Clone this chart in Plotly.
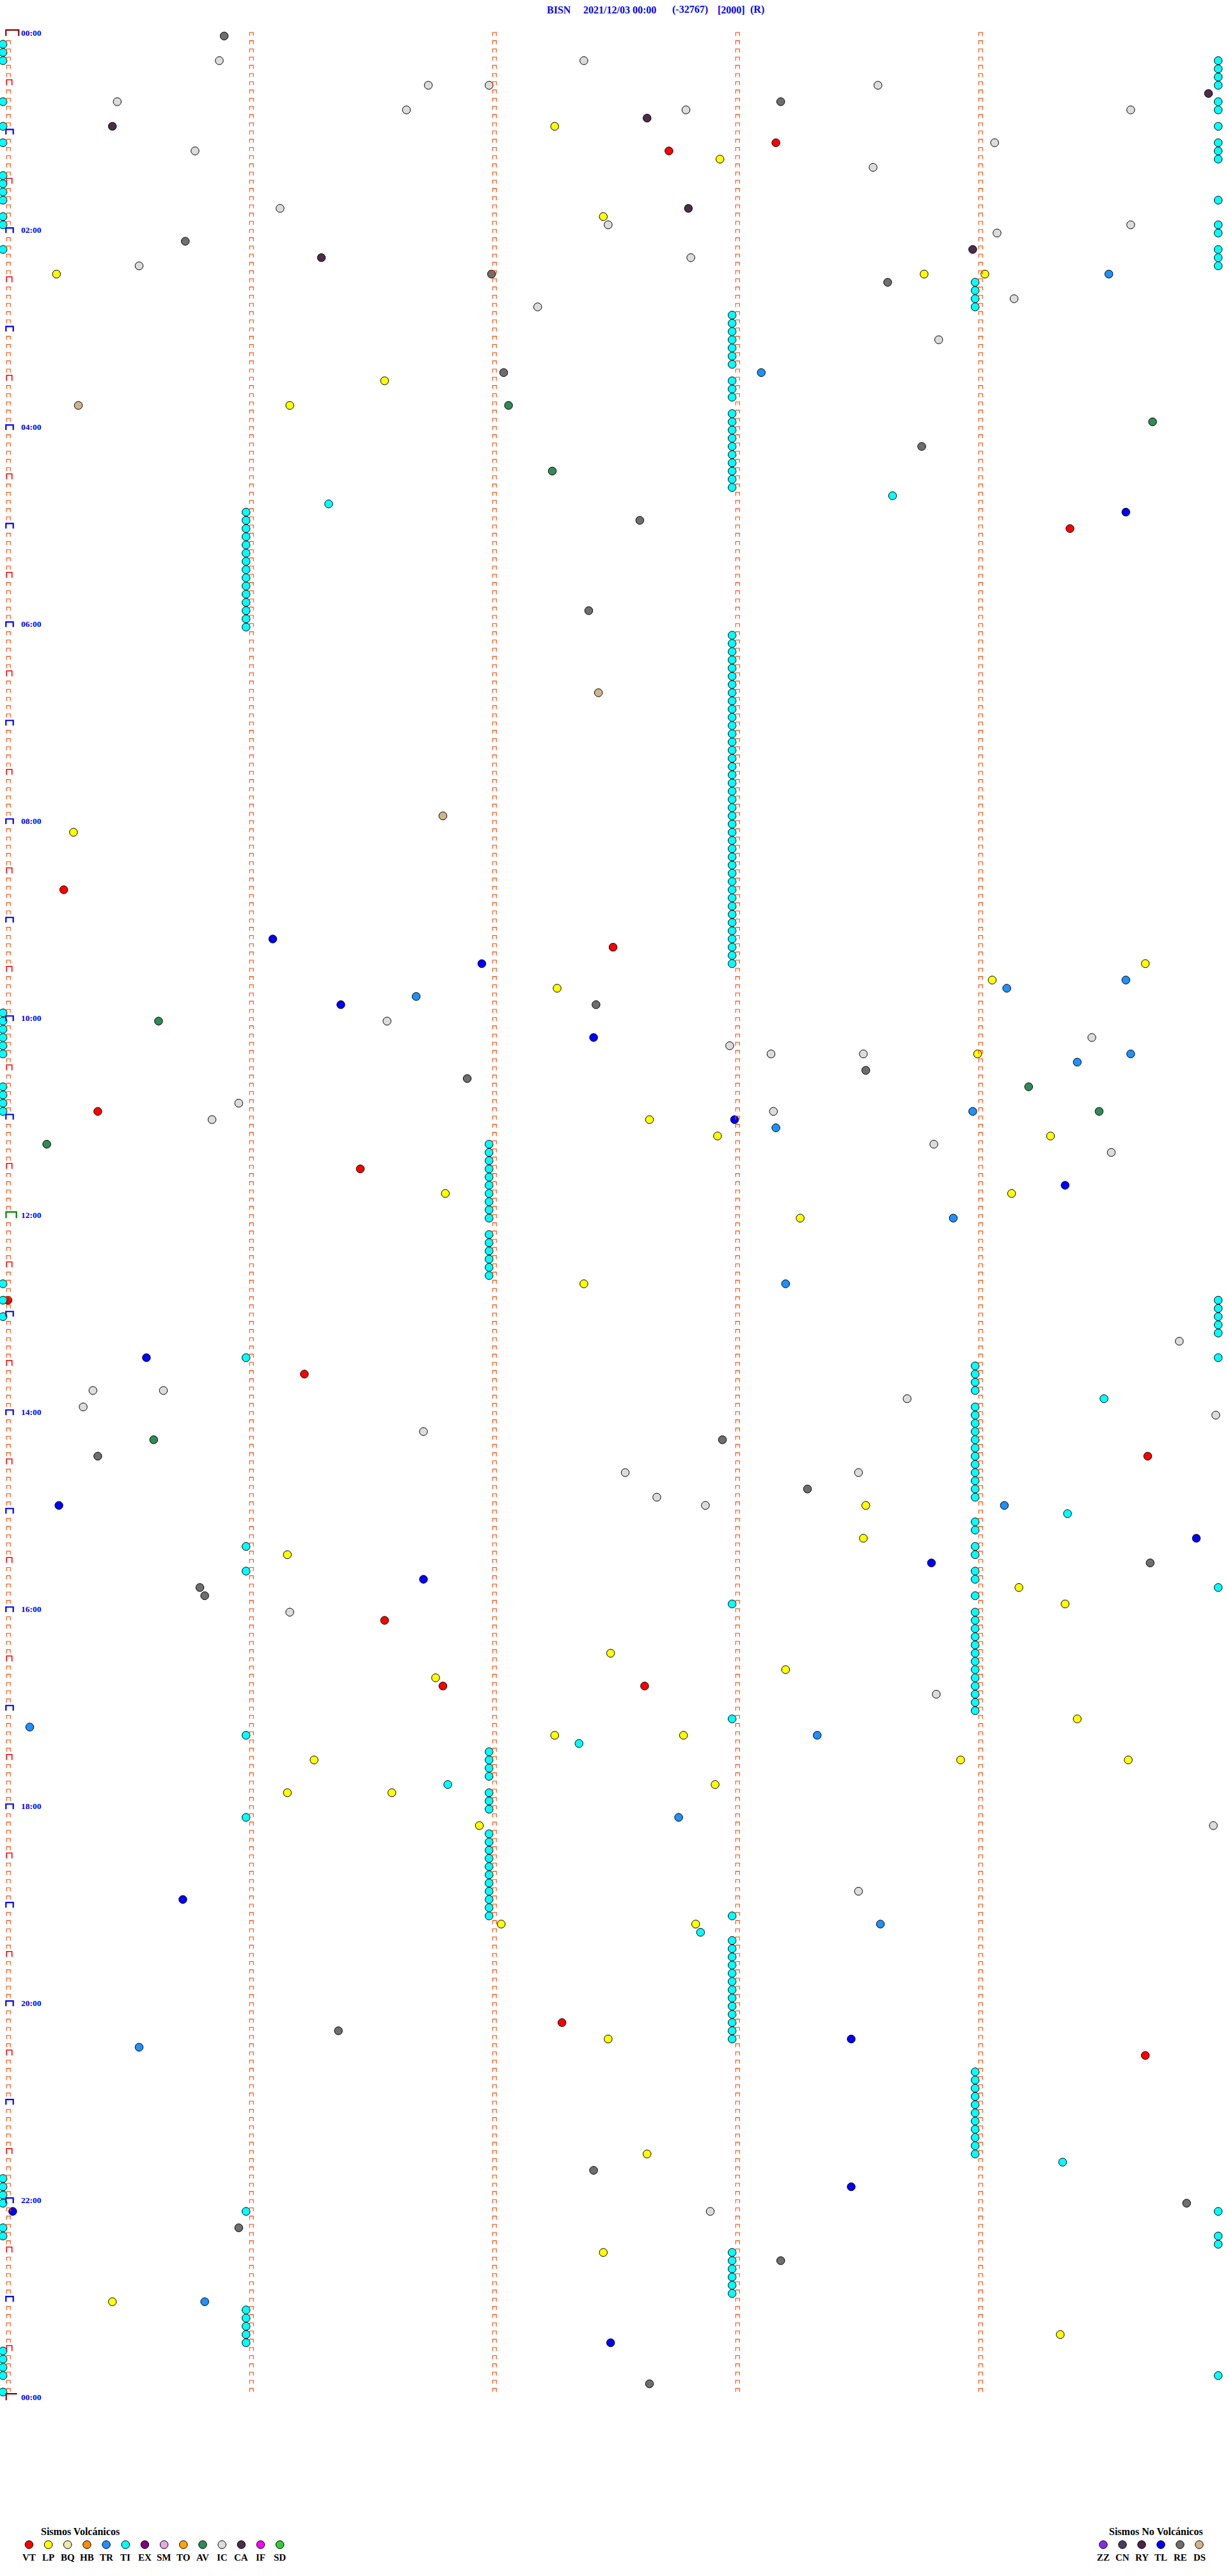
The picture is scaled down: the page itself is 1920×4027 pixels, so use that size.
import plotly.graph_objects as go

# ---------------------------------------------------------------- data
# Each event: row = index of the 5-minute line (0 = 00:00), minute = offset (0..5) inside the line
TITLE_PARTS = ["BISN", "2021/12/03 00:00", "(-32767)", "[2000]", "(R)"]
HOUR_LABELS = ["00:00", "02:00", "04:00", "06:00", "08:00", "10:00", "12:00",
               "14:00", "16:00", "18:00", "20:00", "22:00", "00:00"]
HOUR_ROWS = [0, 24, 48, 72, 96, 120, 144, 168, 192, 216, 240, 264, 288]

VOLC_CODES = ["VT", "LP", "BQ", "HB", "TR", "TI", "EX", "SM", "TO", "AV", "IC", "CA", "IF", "SD"]
VOLC_COLORS = ["#FF0000", "#FFFF00", "#EEE8AA", "#FF8C00", "#1E90FF", "#00FFFF", "#800080",
               "#E6A8E6", "#FFA500", "#2E8B57", "#DCDCDC", "#4B2D4B", "#FF00FF", "#32CD32"]
NOVOLC_CODES = ["ZZ", "CN", "RY", "TL", "RE", "DS"]
NOVOLC_COLORS = ["#8A2BE2", "#4B3B5C", "#4B2346", "#0000FF", "#6E6E6E", "#D2B48C"]

VT_row = [13, 14, 60, 104, 111, 131, 138, 154, 163, 173, 193, 201, 201, 242, 246]
VT_min = [3.18, 2.74, 4.39, 0.25, 2.51, 0.39, 1.47, 0.02, 1.24, 4.71, 1.57, 1.81, 2.64, 2.30, 4.70]

LP_row = [11, 15, 22, 29, 29, 29, 42, 45, 97, 113, 115, 116, 124, 132, 134, 134, 141, 141,
          144, 152, 179, 183, 185, 189, 191, 197, 199, 200, 205, 207, 207, 210, 210, 210,
          213, 214, 214, 218, 230, 230, 244, 258, 270, 276, 280]
LP_min = [2.27, 2.95, 2.47, 0.22, 3.79, 4.04, 1.57, 1.18, 0.29, 4.70, 4.07, 2.28, 4.01, 2.66,
          2.94, 4.31, 1.82, 4.15, 3.28, 2.39, 3.55, 3.54, 1.17, 4.18, 4.37, 2.50, 3.22, 1.78,
          4.42, 2.27, 2.80, 1.28, 3.94, 4.63, 2.93, 1.17, 1.60, 1.96, 2.05, 2.85, 2.49, 2.65,
          2.47, 0.45, 4.35]

TR_row = [29, 41, 115, 116, 117, 124, 125, 131, 133, 144, 152, 179, 206, 207, 217, 230, 245, 276]
TR_min = [4.55, 3.12, 4.62, 4.13, 1.70, 4.64, 4.42, 3.99, 3.18, 3.91, 3.22, 4.12, 0.11, 3.35,
          2.78, 3.61, 0.56, 0.83]

TL_row = [58, 110, 113, 118, 122, 132, 140, 161, 179, 183, 186, 188, 227, 244, 262, 265, 281]
TL_min = [4.62, 1.11, 1.97, 1.39, 2.43, 3.01, 4.37, 0.59, 0.23, 4.91, 3.82, 1.73, 0.74, 3.49,
          3.49, 0.04, 2.50]

RE_row = [0, 8, 25, 29, 30, 41, 50, 59, 70, 118, 126, 127, 171, 173, 177, 186, 189, 190,
          243, 260, 264, 267, 271, 286]
RE_min = [0.91, 3.20, 0.75, 2.01, 3.64, 2.06, 3.78, 2.62, 2.41, 2.44, 3.55, 1.91, 2.96, 0.39,
          3.31, 4.72, 0.81, 0.83, 1.38, 2.43, 4.87, 0.97, 3.20, 2.66]

IC_row = [3, 3, 6, 6, 6, 8, 9, 9, 9, 13, 14, 16, 21, 23, 23, 24, 27, 28, 32, 33, 37, 120, 122,
          123, 124, 124, 130, 131, 132, 135, 136, 159, 165, 165, 166, 167, 168, 170, 175, 175,
          178, 179, 192, 202, 218, 226, 265]
IC_min = [0.89, 2.39, 1.75, 2.00, 3.60, 0.47, 1.66, 2.81, 4.64, 4.08, 0.79, 3.58, 1.14, 2.49,
          4.64, 4.09, 2.83, 0.56, 4.16, 2.20, 3.85, 1.58, 4.48, 2.99, 3.16, 3.54, 0.97, 3.17,
          0.86, 3.83, 4.56, 4.84, 0.37, 0.66, 3.72, 0.33, 4.99, 1.73, 2.56, 3.52, 2.69, 2.89,
          1.18, 3.84, 4.98, 3.52, 2.91]

CA_row = [7, 10, 11, 21, 26, 27]
CA_min = [4.96, 2.65, 0.45, 2.82, 3.99, 1.31]

AV_row = [45, 47, 53, 120, 128, 131, 135, 171]
AV_min = [2.08, 4.73, 2.26, 0.64, 4.22, 4.51, 0.18, 0.62]

DS_row = [45, 80, 95]
DS_min = [0.31, 2.45, 1.81]

# TI (tremor) events sitting on the minute marks
TI_m0_rows = [1, 2, 3, 8, 11, 13, 17, 18, 19, 20, 22, 23, 26, 119, 120, 121, 122, 123, 124,
              128, 129, 130, 131, 152, 154, 156, 261, 262, 263, 264, 267, 268, 282, 283, 284,
              285, 287]
TI_m1_rows = [58, 59, 60, 61, 62, 63, 64, 65, 66, 67, 68, 69, 70, 71, 72, 161, 184, 187, 207,
              217, 265, 277, 278, 279, 280, 281]
TI_m2_rows = [135, 136, 137, 138, 139, 140, 141, 142, 143, 144, 146, 147, 148, 149, 150, 151,
              209, 210, 211, 212, 214, 215, 216, 219, 220, 221, 222, 223, 224, 225, 226, 227,
              228, 229]
TI_m3_rows = [34, 35, 36, 37, 38, 39, 40, 42, 43, 44, 46, 47, 48, 49, 50, 51, 52, 53, 54, 55,
              73, 74, 75, 76, 77, 78, 79, 80, 81, 82, 83, 84, 85, 86, 87, 88, 89, 90, 91, 92,
              93, 94, 95, 96, 97, 98, 99, 100, 101, 102, 103, 104, 105, 106, 107, 108, 109,
              110, 111, 112, 113, 191, 205, 229, 232, 233, 234, 235, 236, 237, 238, 239, 240,
              241, 242, 243, 244, 270, 271, 272, 273, 274, 275]
TI_m4_rows = [30, 31, 32, 33, 162, 163, 164, 165, 167, 168, 169, 170, 171, 172, 173, 174, 175,
              176, 177, 178, 181, 182, 184, 185, 187, 188, 190, 192, 193, 194, 195, 196, 197,
              198, 199, 200, 201, 202, 203, 204, 248, 249, 250, 251, 252, 253, 254, 255, 256,
              257, 258]
TI_m5_rows = [3, 4, 5, 6, 8, 9, 11, 13, 14, 15, 20, 23, 24, 26, 27, 28, 154, 155, 156, 157,
              158, 161, 189, 265, 268, 269, 285]
TI_other_row = [56, 57, 166, 180, 208, 213, 231, 259]
TI_other_min = [3.66, 1.34, 4.53, 4.38, 2.37, 1.83, 2.87, 4.36]

N_ROWS = 288

# ---------------------------------------------------------------- geometry (pixels)
W, H = 1920, 4027
X0_PX, MIN_PX = 4.7, 380.0
ROW0_PX, ROW_PX = 56.3, 12.833


def px2x(px):
    return (px - X0_PX) / MIN_PX


def py2y(py):
    return (py - ROW0_PX) / ROW_PX


def col_px(m):
    return X0_PX + MIN_PX * m


def row_px(r):
    return ROW0_PX + ROW_PX * r


SERIF = "Liberation Serif, Times New Roman, serif"
fig = go.Figure()


def add_points(rows, mins, color):
    fig.add_trace(go.Scatter(
        x=list(mins), y=list(rows), mode="markers",
        marker=dict(size=12.5, color=color, line=dict(color="black", width=1)),
        hoverinfo="skip", showlegend=False))


colmap = dict(zip(VOLC_CODES + NOVOLC_CODES, VOLC_COLORS + NOVOLC_COLORS))
add_points(RE_row, RE_min, colmap["RE"])
add_points(IC_row, IC_min, colmap["IC"])
add_points(CA_row, CA_min, colmap["CA"])
add_points(LP_row, LP_min, colmap["LP"])
add_points(VT_row, VT_min, colmap["VT"])
add_points(TL_row, TL_min, colmap["TL"])
add_points(TR_row, TR_min, colmap["TR"])
add_points(AV_row, AV_min, colmap["AV"])
add_points(DS_row, DS_min, colmap["DS"])
ti_rows, ti_mins = [], []
for m, rows in [(0, TI_m0_rows), (1, TI_m1_rows), (2, TI_m2_rows), (3, TI_m3_rows),
                (4, TI_m4_rows), (5, TI_m5_rows)]:
    ti_rows += rows
    ti_mins += [m] * len(rows)
ti_rows += TI_other_row
ti_mins += TI_other_min
add_points(ti_rows, ti_mins, colmap["TI"])

# ---------------------------------------------------------------- minute-mark brackets
groups = {}


def bracket(key, m, r, xl, xr, top, shape="n"):
    xs, ys = groups.setdefault(key, ([], []))
    cx, cy = col_px(m), row_px(r)
    if shape == "n":
        pts = [(cx + xl, cy), (cx + xl, cy - top), (cx + xr, cy - top), (cx + xr, cy)]
    else:
        pts = [(cx + xl, cy), (cx + xl, cy - top), (cx + xr, cy - top)]
    for px_, py_ in pts:
        xs.append(px2x(px_))
        ys.append(py2y(py_))
    xs.append(None)
    ys.append(None)


for r in range(N_ROWS + 1):
    if r == 0:
        bracket("darkred", 0, r, 4.6, 24.6, 9.5)
    elif r == N_ROWS:
        bracket("darkred", 0, r, 5.0, 22.0, 10.0, shape="g")
    elif r == 144:
        bracket("green", 0, r, 4.8, 21.0, 9.6)
    elif r % 12 == 0:
        bracket("blue", 0, r, 4.6, 16.0, 8.0)
    elif r % 12 == 6:
        bracket("red", 0, r, 5.6, 14.0, 8.5)
    else:
        bracket("orange", 0, r, 5.5, 11.5, 5.5)
    if r < N_ROWS:
        for m in (1, 2, 3, 4):
            bracket("orange", m, r, 5.5, 11.5, 5.5)

styles = {"orange": ("#FF4500", 1.1), "red": ("#FF0000", 1.6), "blue": ("#0000FF", 2.2),
          "darkred": ("#8B0000", 2.2), "green": ("#008000", 2.2)}
for key, (xs, ys) in groups.items():
    c, w = styles[key]
    fig.add_trace(go.Scatter(x=xs, y=ys, mode="lines", line=dict(color=c, width=w),
                             hoverinfo="skip", showlegend=False))

annotations = []

# hour labels
for lab, r in zip(HOUR_LABELS, HOUR_ROWS):
    annotations.append(dict(x=px2x(31), y=py2y(row_px(r) - 5), xref="x", yref="y",
                            text=f"<b>{lab}</b>", showarrow=False, xanchor="left",
                            yanchor="middle",
                            font=dict(family=SERIF, size=13.5, color="#0000FF")))

# title pieces
for txt, lx in zip(TITLE_PARTS, [854, 911, 1050, 1121, 1172]):
    annotations.append(dict(x=px2x(lx - 1), y=py2y(15), xref="x", yref="y",
                            text=f"<b>{txt}</b>", showarrow=False, xanchor="left",
                            yanchor="middle",
                            font=dict(family=SERIF, size=16, color="#0000FF")))

# legends
leg_marker_y = py2y(3978)
leg_label_y = py2y(3998)
vx = [45.4 + 30.17 * i for i in range(len(VOLC_CODES))]
nx = [1725 + 30.0 * i for i in range(len(NOVOLC_CODES))]
fig.add_trace(go.Scatter(x=[px2x(v) for v in vx], y=[leg_marker_y] * len(vx), mode="markers",
                         marker=dict(size=12.5, color=VOLC_COLORS, line=dict(color="black", width=1)),
                         hoverinfo="skip", showlegend=False))
fig.add_trace(go.Scatter(x=[px2x(v) for v in nx], y=[leg_marker_y] * len(nx), mode="markers",
                         marker=dict(size=12.5, color=NOVOLC_COLORS, line=dict(color="black", width=1)),
                         hoverinfo="skip", showlegend=False))
for code, v in list(zip(VOLC_CODES, vx)) + list(zip(NOVOLC_CODES, nx)):
    annotations.append(dict(x=px2x(v), y=leg_label_y, xref="x", yref="y",
                            text=f"<b>{code}</b>", showarrow=False, xanchor="center",
                            yanchor="middle", font=dict(family=SERIF, size=15, color="black")))
for txt, lx in [("Sismos Volcánicos", 62), ("Sismos No Volcánicos", 1732)]:
    annotations.append(dict(x=px2x(lx), y=py2y(3957), xref="x", yref="y",
                            text=f"<b>{txt}</b>", showarrow=False, xanchor="left",
                            yanchor="middle", font=dict(family=SERIF, size=16, color="black")))

fig.update_layout(
    width=W, height=H, autosize=False,
    margin=dict(l=0, r=0, t=0, b=0, pad=0),
    paper_bgcolor="white", plot_bgcolor="white",
    xaxis=dict(range=[px2x(0), px2x(W)], visible=False, showgrid=False, zeroline=False,
               fixedrange=True),
    yaxis=dict(range=[py2y(H), py2y(0)], visible=False, showgrid=False, zeroline=False,
               fixedrange=True),
    annotations=annotations,
    showlegend=False,
)

fig.write_html("out.html", include_plotlyjs=True, config={"displayModeBar": False},
               post_script="document.body.style.margin='0px';document.body.style.padding='0px';")
